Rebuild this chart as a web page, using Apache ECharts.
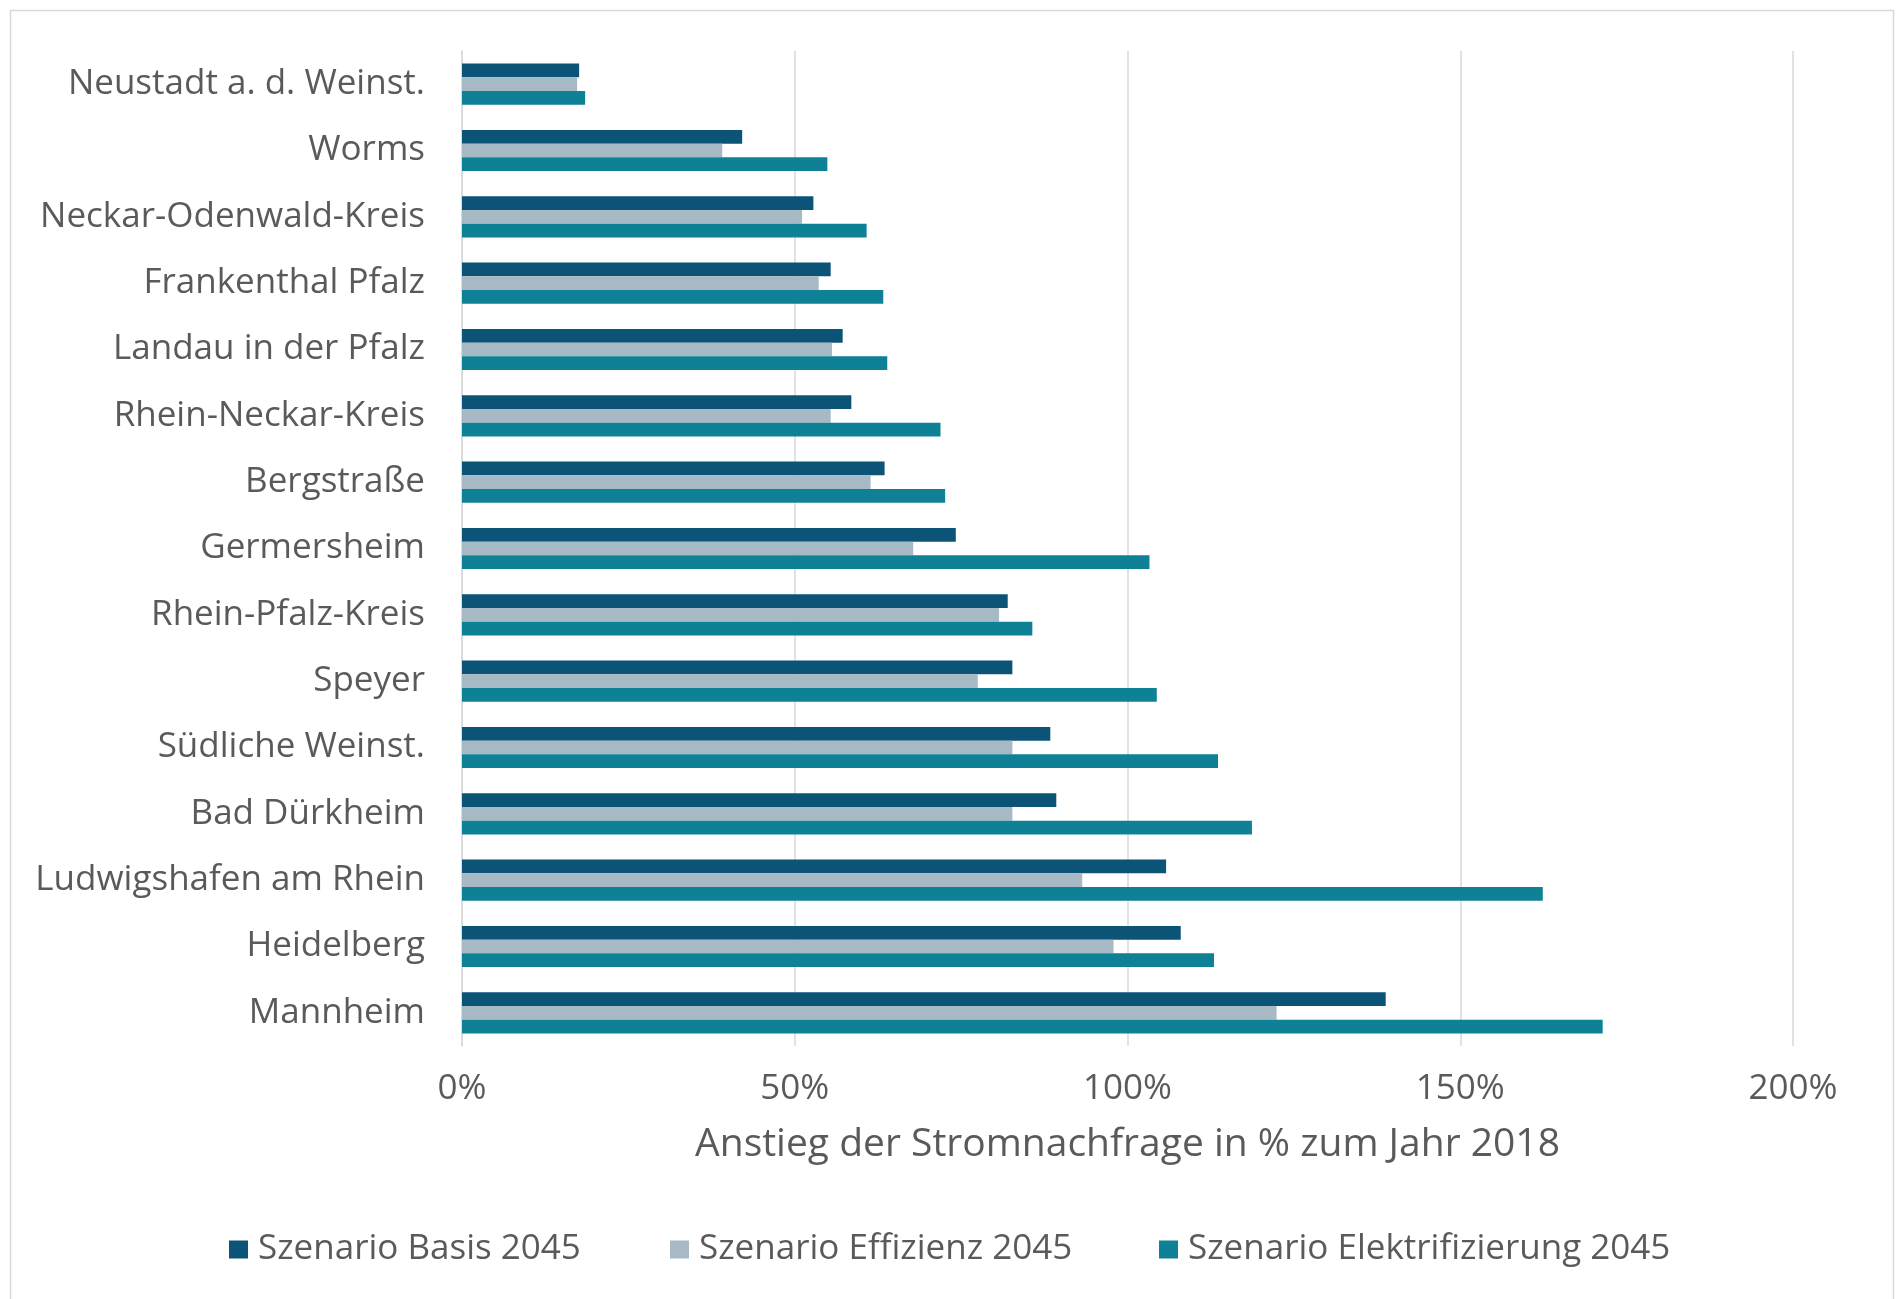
<!DOCTYPE html>
<html>
<head>
<meta charset="utf-8">
<script src="https://cdn.jsdelivr.net/npm/echarts@6/dist/echarts.min.js"></script>
<style>
html,body{margin:0;padding:0;background:#fff;}
#chart{width:1899px;height:1299px;}
</style>
</head>
<body>
<div id="chart"></div>
<script>
const categories = ["Neustadt a. d. Weinst.", "Worms", "Neckar-Odenwald-Kreis", "Frankenthal Pfalz", "Landau in der Pfalz", "Rhein-Neckar-Kreis", "Bergstraße", "Germersheim", "Rhein-Pfalz-Kreis", "Speyer", "Südliche Weinst.", "Bad Dürkheim", "Ludwigshafen am Rhein", "Heidelberg", "Mannheim"];
const basis2045 = [17.6, 42.1, 52.8, 55.4, 57.2, 58.5, 63.5, 74.2, 82.0, 82.7, 88.4, 89.3, 105.8, 108.0, 138.8];
const effizienz2045 = [17.3, 39.1, 51.1, 53.6, 55.6, 55.4, 61.4, 67.8, 80.7, 77.5, 82.7, 82.7, 93.2, 97.9, 122.4];
const elektrifizierung2045 = [18.5, 54.9, 60.8, 63.3, 63.9, 71.9, 72.6, 103.3, 85.7, 104.4, 113.6, 118.7, 162.4, 113.0, 171.4];
const seriesNames = ["Szenario Basis 2045", "Szenario Effizienz 2045", "Szenario Elektrifizierung 2045"];
const xTicks = [0, 50, 100, 150, 200];
const xAxisTitle = "Anstieg der Stromnachfrage in % zum Jahr 2018";

const colors = ["#0b5478", "#a7b9c4", "#0e8196"];
const FONT = "'Open Sans', sans-serif";
const TXT = "#5a5a5a";

const chart = echarts.init(document.getElementById('chart'), null, {renderer: 'canvas'});
const legendLefts = [229, 670, 1159];
const option = {
  backgroundColor: '#ffffff',
  animation: false,
  textStyle: {fontFamily: FONT},
  graphic: [{
    type: 'rect', left: 8, top: 8, silent: true,
    shape: {x: 0, y: 0, width: 1883, height: 1320},
    style: {fill: 'none', stroke: '#d9d9d9', lineWidth: 1.5}
  }],
  grid: {left: 462, right: 106, top: 51, bottom: 253, containLabel: false},
  legend: seriesNames.map((n, i) => ({
    data: [n], left: legendLefts[i], top: 1232, itemWidth: 19, itemHeight: 18,
    icon: 'rect', itemGap: 0, padding: 0,
    textStyle: {fontFamily: FONT, fontSize: 35, color: TXT, padding: [0, 0, 0, 5]}
  })),
  xAxis: {
    type: 'value', min: xTicks[0], max: xTicks[xTicks.length - 1], interval: 50,
    name: xAxisTitle, nameLocation: 'middle', nameGap: 79,
    nameTextStyle: {fontFamily: FONT, fontSize: 39, color: TXT},
    axisLine: {show: false}, axisTick: {show: false},
    axisLabel: {formatter: v => v + '%', fontFamily: FONT, fontSize: 35, color: TXT, margin: 26},
    splitLine: {show: true, lineStyle: {color: '#d9d9d9', width: 1.5}}
  },
  yAxis: {
    type: 'category', data: categories, inverse: true,
    axisLine: {show: true, lineStyle: {color: '#d9d9d9', width: 1.5}},
    axisTick: {show: false},
    axisLabel: {fontFamily: FONT, fontSize: 35, color: TXT, margin: 37}
  },
  series: [basis2045, effizienz2045, elektrifizierung2045].map((d, i) => ({
    name: seriesNames[i], type: 'bar', data: d, barWidth: 13.7, barGap: '0%',
    itemStyle: {color: colors[i]}
  }))
};
chart.setOption(option);
</script>
</body>
</html>
